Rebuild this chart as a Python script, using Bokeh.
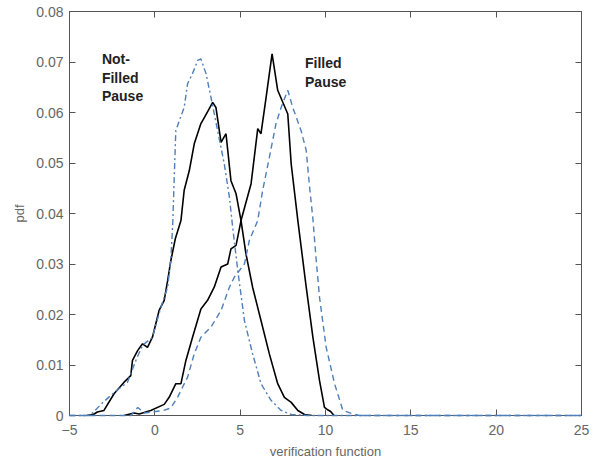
from bokeh.plotting import figure
from bokeh.models import Range1d, LinearAxis, FixedTicker, CustomJSTickFormatter
from bokeh.core.properties import value
from bokeh.embed import file_html
from bokeh.resources import INLINE

# Not-Filled Pause, black solid
nfp_black_x = [-4.0, -3.6, -3.37, -2.98, -2.39, -1.8, -1.41, -1.31, -1.0, -0.72, -0.43, -0.14, 0.25, 0.55,
               0.75, 0.94, 1.2, 1.53, 1.72, 2.02, 2.31, 2.7, 2.9, 3.15, 3.39, 3.58, 3.88, 4.17, 4.46, 4.76,
               5.05, 5.34, 5.73, 6.22, 6.71, 7.2, 7.59, 7.99, 8.38, 8.77, 9.2]
nfp_black_y = [0.0, 0.0002, 0.0007, 0.001, 0.0043, 0.0066, 0.0079, 0.0109, 0.0129, 0.0142, 0.0135, 0.0155,
               0.0208, 0.0228, 0.0267, 0.0307, 0.035, 0.0386, 0.0446, 0.0485, 0.0538, 0.0578, 0.059, 0.0605,
               0.062, 0.061, 0.0541, 0.0558, 0.0465, 0.0439, 0.0386, 0.032, 0.0254, 0.0188, 0.0122, 0.0063,
               0.0036, 0.0026, 0.001, 0.0002, 0.0]

# Not-Filled Pause, blue dash-dot
nfp_blue_x = [-5.0, -3.8, -3.07, -2.4, -1.6, -1.1, -0.72, -0.14, 0.35, 0.75, 0.94, 1.05, 1.13, 1.23, 1.5,
              1.72, 1.92, 2.21, 2.51, 2.7, 3.0, 3.29, 3.68, 4.07, 4.37, 4.56, 4.86, 5.25, 5.73, 6.22, 6.81,
              7.4, 8.0, 9.0, 25.0]
nfp_blue_y = [0.0, 0.0, 0.0025, 0.0045, 0.0066, 0.011, 0.0139, 0.0155, 0.0214, 0.0254, 0.031, 0.038,
              0.0465, 0.0564, 0.059, 0.061, 0.0657, 0.0677, 0.0703, 0.0706, 0.0677, 0.063, 0.0564, 0.0498,
              0.0432, 0.0373, 0.0287, 0.0188, 0.0122, 0.0063, 0.003, 0.001, 0.0002, 0.0, 0.0]

# Filled Pause, black solid
fp_black_x = [-1.8, -1.21, -0.92, -0.24, 0.55, 0.84, 1.23, 1.53, 1.82, 2.21, 2.7, 3.09, 3.48, 3.88, 4.27,
              4.46, 4.76, 5.05, 5.64, 6.03, 6.22, 6.52, 6.87, 7.2, 7.79, 7.99, 8.38, 8.87, 9.26, 9.65, 9.94,
              10.1, 10.3, 10.5]
fp_black_y = [0.0, 0.0005, 0.0003, 0.001, 0.0022, 0.0036, 0.0063, 0.0063, 0.0109, 0.0155, 0.0211, 0.0228,
              0.0254, 0.0294, 0.030, 0.033, 0.0337, 0.0386, 0.0459, 0.0568, 0.0558, 0.063, 0.0716, 0.0644,
              0.0597, 0.0498, 0.0386, 0.0254, 0.0155, 0.0069, 0.0016, 0.0012, 0.0008, 0.0]

# Filled Pause, blue dashed
fp_blue_x = [-5.0, -1.4, -1.0, -0.6, 0.5, 0.94, 1.33, 1.92, 2.31, 2.7, 3.29, 3.88, 4.37, 4.66, 5.25, 5.54,
             6.03, 6.32, 6.71, 7.1, 7.4, 7.79, 8.08, 8.57, 8.87, 9.06, 9.26, 9.45, 9.65, 10.04, 10.53, 11.02,
             11.6, 12.0, 25.0]
fp_blue_y = [0.0, 0.0, 0.0016, 0.0005, 0.001, 0.0015, 0.0036, 0.0076, 0.0122, 0.0155, 0.0175, 0.0208,
             0.0254, 0.0274, 0.030, 0.0347, 0.0386, 0.0446, 0.0511, 0.0578, 0.061, 0.0644, 0.061, 0.0564,
             0.0525, 0.0455, 0.039, 0.031, 0.0234, 0.0135, 0.0063, 0.001, 0.0003, 0.0, 0.0]

x_ticks = [-5, 0, 5, 10, 15, 20, 25]
y_ticks = [0.0, 0.01, 0.02, 0.03, 0.04, 0.05, 0.06, 0.07, 0.08]

label_text = ["Not-\nFilled\nPause", "Filled\nPause"]
label_x = [-3.1, 8.8]
label_y = [0.0721, 0.0713]

FONT = "Liberation Sans"
GRAY = "#555555"
BLUE = "#4f7fb8"

p = figure(width=599, height=462, output_backend="svg", toolbar_location=None,
           x_range=Range1d(-5, 25), y_range=Range1d(0, 0.08),
           min_border_left=69, min_border_right=18, min_border_top=11, min_border_bottom=47)
p.grid.visible = False
p.outline_line_color = GRAY
p.background_fill_color = "white"
p.border_fill_color = "white"

p.line(nfp_black_x, nfp_black_y, line_color="black", line_width=1.6)
p.line(fp_black_x, fp_black_y, line_color="black", line_width=1.6)
r1 = p.line(nfp_blue_x, nfp_blue_y, line_color=BLUE, line_width=1.4, line_dash="6 3 2 3")
r2 = p.line(fp_blue_x, fp_blue_y, line_color=BLUE, line_width=1.4, line_dash="6 4")
r1.level = "overlay"
r2.level = "overlay"

p.text(x=label_x, y=label_y, text=label_text, text_font=value(FONT), text_font_style="bold",
       text_font_size="14px", text_color="#222222", text_baseline="top", text_align="left",
       text_line_height=1.15)

fmt = CustomJSTickFormatter(code="return tick == 0 ? '0' : tick.toFixed(2);")

for ax in p.xaxis:
    ax.ticker = FixedTicker(ticks=x_ticks)
    ax.axis_label = "verification function"
for ax in p.yaxis:
    ax.ticker = FixedTicker(ticks=y_ticks)
    ax.formatter = fmt
    ax.axis_label = "pdf"

for ax in list(p.xaxis) + list(p.yaxis):
    ax.major_tick_in = 6
    ax.major_tick_out = 0
    ax.minor_tick_line_color = None
    ax.axis_line_color = GRAY
    ax.major_tick_line_color = GRAY
    ax.major_label_text_color = "#666666"
    ax.major_label_text_font = FONT
    ax.major_label_text_font_size = "14px"
    ax.axis_label_text_font = FONT
    ax.axis_label_text_font_size = "13px"
    ax.axis_label_text_font_style = "normal"
    ax.axis_label_text_color = "#666666"
    ax.major_label_standoff = 6

p.xaxis.major_label_standoff = 9
p.xaxis.axis_label_standoff = 6
p.yaxis.axis_label_standoff = 6

top = LinearAxis(ticker=FixedTicker(ticks=x_ticks), major_label_text_font_size="1px",
                 major_label_text_color=None,
                 major_tick_in=6, major_tick_out=0, minor_tick_line_color=None,
                 axis_line_color=GRAY, major_tick_line_color=GRAY, major_label_standoff=0)
right = LinearAxis(ticker=FixedTicker(ticks=y_ticks), major_label_text_font_size="1px",
                   major_label_text_color=None,
                   major_tick_in=6, major_tick_out=0, minor_tick_line_color=None,
                   axis_line_color=GRAY, major_tick_line_color=GRAY, major_label_standoff=0)
p.add_layout(top, "above")
p.add_layout(right, "right")

open("out.html", "w").write(file_html(p, INLINE))
